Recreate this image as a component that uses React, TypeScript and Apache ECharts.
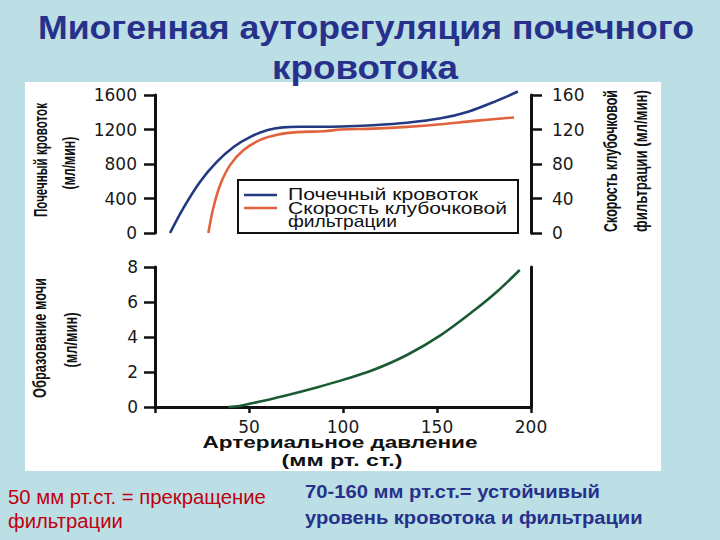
import React, { useEffect, useRef } from "react";
import * as echarts from "echarts";

// ---- Data ----
const bloodFlowPressure = [8, 15, 24, 33, 42, 51, 60, 68, 77, 88, 99, 116, 134, 152, 167, 182, 193];
const bloodFlowValues = [0, 286, 595, 827, 1000, 1117, 1194, 1225, 1232, 1232, 1234, 1250, 1279, 1330, 1410, 1535, 1640];

const gfrPressure = [28.4, 31, 34.7, 40, 47, 56, 65, 75.6, 90, 99, 116, 134, 152, 170, 191];
const gfrValues = [0, 29, 56, 79, 96, 108, 114, 117, 118, 120, 121, 123, 126, 130, 134];

const urinePressure = [39, 45, 51, 68, 86, 100, 116, 134, 152, 170, 182, 194];
const urineValues = [0, 0.06, 0.2, 0.62, 1.12, 1.55, 2.11, 2.97, 4.11, 5.54, 6.6, 7.83];

const bloodFlowTicks = { min: 0, max: 1600, interval: 400 };
const gfrTicks = { min: 0, max: 160, interval: 40 };
const urineTicks = { min: 0, max: 8, interval: 2 };
const pressureTicks = { min: 0, max: 200, interval: 50 };

const seriesNames = ["Почечный кровоток", "Скорость клубочковой", "фильтрации", "Образование мочи"];

const zip = (xs: number[], ys: number[]) => xs.map((x, i) => [x, ys[i]]);

let measureCtx: CanvasRenderingContext2D | null = null;
function measure(text: string, font: string): number {
  if (!measureCtx) measureCtx = document.createElement("canvas").getContext("2d");
  if (!measureCtx) return 1;
  measureCtx.font = font;
  return measureCtx.measureText(text).width || 1;
}

function fitText(
  text: string,
  x: number,
  y: number,
  size: number,
  weight: string,
  family: string,
  color: string,
  targetW: number,
  align: string = "center",
  rotation: number = 0
) {
  const w = measure(text, `${weight} ${size}px ${family}`);
  return {
    type: "text",
    x,
    y,
    rotation,
    scaleX: targetW / w,
    z: 20,
    silent: true,
    style: {
      text,
      fill: color,
      fontSize: size,
      fontWeight: weight,
      fontFamily: family,
      align,
      verticalAlign: "middle",
    },
  };
}

const AXIS = "#111";
const LABEL_FONT = { fontFamily: "DejaVu Sans", fontSize: 17, color: "#1a1a1a" };
const LS = '"Liberation Sans"';
const NAVY = "#27318b";
const plain = (v: number) => String(v);

export default function App() {
  const ref = useRef<HTMLDivElement>(null);
  useEffect(() => {
    if (!ref.current) return;
    const chart = echarts.init(ref.current, undefined, { renderer: "svg" });
    const axisLine = { show: true, onZero: false, lineStyle: { color: AXIS, width: 3 } };
    const yTick = { show: true, length: 11, lineStyle: { color: AXIS, width: 2.5 } };
    const R = Math.PI / 2;
    const option: any = {
      animation: false,
      backgroundColor: "#bbdfe4",
      grid: [
        { left: 155, top: 95, width: 376, height: 138 },
        { left: 155, top: 267, width: 376, height: 140 },
      ],
      xAxis: [
        { gridIndex: 0, type: "value", ...pressureTicks, show: false },
        {
          gridIndex: 1,
          type: "value",
          ...pressureTicks,
          axisLine,
          axisTick: { show: true, length: 6, lineStyle: { color: AXIS, width: 2.5 } },
          axisLabel: { margin: 11, ...LABEL_FONT, formatter: (v: number) => (v === 0 ? "" : String(v)) },
          splitLine: { show: false },
        },
      ],
      yAxis: [
        {
          gridIndex: 0,
          type: "value",
          position: "left",
          ...bloodFlowTicks,
          axisLine,
          axisTick: yTick,
          axisLabel: { margin: 18, ...LABEL_FONT, formatter: plain },
          splitLine: { show: false },
        },
        {
          gridIndex: 0,
          type: "value",
          position: "right",
          ...gfrTicks,
          axisLine,
          axisTick: yTick,
          axisLabel: { margin: 21, ...LABEL_FONT, formatter: plain },
          splitLine: { show: false },
        },
        {
          gridIndex: 1,
          type: "value",
          position: "left",
          ...urineTicks,
          axisLine,
          axisTick: yTick,
          axisLabel: { margin: 17, ...LABEL_FONT, formatter: plain },
          splitLine: { show: false },
        },
        {
          gridIndex: 1,
          type: "value",
          position: "right",
          ...urineTicks,
          axisLine,
          axisTick: { show: false },
          axisLabel: { show: false },
          splitLine: { show: false },
        },
      ],
      series: [
        {
          name: seriesNames[0],
          type: "line",
          xAxisIndex: 0,
          yAxisIndex: 0,
          data: zip(bloodFlowPressure, bloodFlowValues),
          smooth: 0.35,
          showSymbol: false,
          clip: false,
          lineStyle: { color: "#243a80", width: 2.6 },
        },
        {
          name: seriesNames[1],
          type: "line",
          xAxisIndex: 0,
          yAxisIndex: 1,
          data: zip(gfrPressure, gfrValues),
          smooth: 0.35,
          showSymbol: false,
          clip: false,
          lineStyle: { color: "#e2623e", width: 2.6 },
        },
        {
          name: seriesNames[3],
          type: "line",
          xAxisIndex: 1,
          yAxisIndex: 2,
          data: zip(urinePressure, urineValues),
          smooth: 0.35,
          showSymbol: false,
          clip: false,
          lineStyle: { color: "#1b5a32", width: 2.6 },
        },
      ],
      graphic: [
        { type: "rect", z: -100, silent: true, shape: { x: 25, y: 82, width: 636, height: 389 }, style: { fill: "#ffffff" } },
        // title
        fitText("Миогенная ауторегуляция почечного", 366, 27, 34, "bold", LS, NAVY, 656),
        fitText("кровотока", 365, 67, 34, "bold", LS, NAVY, 186),
        // legend box
        { type: "rect", z: 15, silent: true, shape: { x: 238, y: 180, width: 280, height: 53 }, style: { fill: "#ffffff", stroke: AXIS, lineWidth: 2 } },
        { type: "line", z: 16, silent: true, shape: { x1: 244, y1: 195, x2: 277, y2: 195 }, style: { stroke: "#243a80", lineWidth: 2.6 } },
        { type: "line", z: 16, silent: true, shape: { x1: 244, y1: 208, x2: 277, y2: 208 }, style: { stroke: "#e2623e", lineWidth: 2.6 } },
        fitText(seriesNames[0], 288, 194.5, 16, "normal", LS, "#111", 190, "left"),
        fitText(seriesNames[1], 288, 208.5, 16, "normal", LS, "#111", 219, "left"),
        fitText(seriesNames[2], 288, 222, 16, "normal", LS, "#111", 109, "left"),
        // axis titles
        fitText("Почечный кровоток", 40, 160, 18, "bold", LS, "#111", 114, "center", R),
        fitText("(мл/мин)", 69, 163, 18, "bold", LS, "#111", 53, "center", R),
        fitText("Скорость клубочковой", 611, 161, 18, "bold", LS, "#111", 142, "center", R),
        fitText("фильтрации (мл/мин)", 641, 161, 18, "bold", LS, "#111", 142, "center", R),
        fitText("Образование мочи", 40, 338, 18, "bold", LS, "#111", 120, "center", R),
        fitText("(мл/мин)", 71, 340, 18, "bold", LS, "#111", 55, "center", R),
        fitText("Артериальное давление", 340, 442, 17, "bold", LS, "#111", 275),
        fitText("(мм рт. ст.)", 342, 460, 17, "bold", LS, "#111", 121),
        // bottom notes
        fitText("50 мм рт.ст. = прекращение", 8, 497, 20, "normal", LS, "#c00010", 258, "left"),
        fitText("фильтрации", 8, 521, 20, "normal", LS, "#c00010", 115, "left"),
        fitText("70-160 мм рт.ст.= устойчивый", 305, 491, 19, "bold", LS, NAVY, 295, "left"),
        fitText("уровень кровотока и фильтрации", 305, 517, 19, "bold", LS, NAVY, 338, "left"),
      ],
    };
    chart.setOption(option);
    return () => chart.dispose();
  }, []);
  return (
    <div
      ref={ref}
      style={{ position: "absolute", left: 0, top: 0, width: 720, height: 540 }}
    />
  );
}
